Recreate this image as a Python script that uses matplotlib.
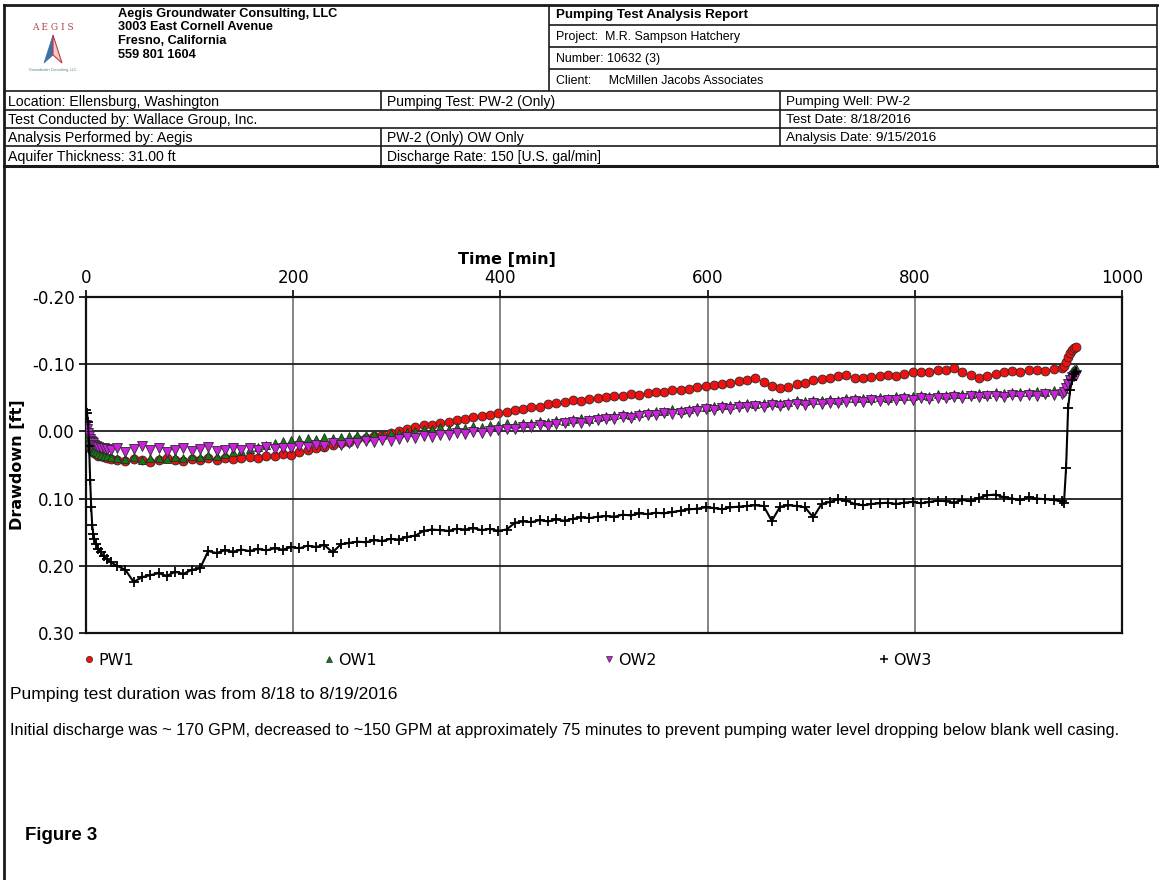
import numpy as np
import matplotlib
matplotlib.use('Agg')
from matplotlib import pyplot as plt
from matplotlib.patches import Polygon
from matplotlib.lines import Line2D

# elapsed time of each reading [min]
time_min = [0, 1, 2, 3, 4, 5, 6, 7, 8, 10, 12, 14, 17, 20, 24,
            30, 38, 46, 54, 62, 70, 78, 86, 94, 102,
            110, 118, 126, 134, 142, 150, 158, 166, 174, 182,
            190, 198, 206, 214, 222, 230, 238, 246, 254, 262,
            270, 278, 286, 294, 302, 310, 318, 326, 334, 342,
            350, 358, 366, 374, 382, 390, 398, 406, 414, 422,
            430, 438, 446, 454, 462, 470, 478, 486, 494, 502,
            510, 518, 526, 534, 542, 550, 558, 566, 574, 582,
            590, 598, 606, 614, 622, 630, 638, 646, 654, 662,
            670, 678, 686, 694, 702, 710, 718, 726, 734, 742,
            750, 758, 766, 774, 782, 790, 798, 806, 814, 822,
            830, 838, 846, 854, 862, 870, 878, 886, 894, 902,
            910, 918, 926, 934, 942,
            944, 946, 948, 950, 952, 954, 956]

# drawdown readings in thousandths of a foot
pw1_mft = [-3, 6, 13, 19, 23, 26, 29, 31, 32, 34, 36, 37, 38, 40, 41,
           42, 44, 41, 43, 45, 42, 40, 43, 44, 41,
           43, 40, 42, 39, 41, 40, 38, 39, 37, 36,
           34, 35, 30, 28, 25, 23, 20, 18, 16, 12,
           10, 7, 5, 2, 0, -4, -6, -9, -10, -13,
           -14, -17, -18, -21, -23, -24, -28, -29, -32, -33,
           -36, -37, -41, -42, -44, -46, -45, -48, -49, -51,
           -53, -52, -55, -54, -57, -59, -58, -61, -62, -63,
           -66, -67, -69, -71, -72, -75, -76, -79, -73, -68,
           -65, -66, -70, -72, -76, -78, -80, -82, -84, -80,
           -79, -81, -82, -84, -83, -85, -88, -89, -88, -91,
           -92, -94, -89, -84, -80, -82, -86, -88, -90, -89,
           -91, -92, -90, -93, -95,
           -97, -103, -111, -117, -121, -124, -125]

ow1_mft = [-6, 0, 7, 13, 18, 22, 25, 27, 29, 31, 33, 35, 36, 37, 38,
           39, 41, 38, 42, 40, 39, 41, 38, 40, 37,
           38, 35, 36, 33, 31, 29, 26, 23, 20, 17,
           15, 13, 12, 10, 11, 9, 10, 8, 7, 6,
           6, 4, 5, 3, 2, 1, -1, -3, -4, -6,
           -4, -6, -5, -8, -7, -10, -9, -12, -11, -13,
           -13, -15, -14, -17, -16, -19, -20, -19, -22, -23,
           -24, -26, -25, -28, -29, -30, -31, -33, -32, -34,
           -36, -37, -38, -39, -40, -41, -42, -41, -43, -44,
           -43, -44, -46, -45, -47, -46, -48, -47, -49, -50,
           -49, -50, -51, -50, -52, -53, -52, -54, -53, -55,
           -54, -55, -56, -55, -57, -56, -58, -57, -58, -59,
           -58, -60, -59, -61, -60,
           -63, -70, -78, -85, -90, -93, -95]

ow2_mft = [-9, -4, 2, 7, 11, 14, 16, 18, 20, 21, 23, 24, 25, 26, 27,
           24, 30, 26, 22, 28, 25, 31, 27, 24, 29,
           26, 23, 29, 27, 24, 28, 25, 27, 23, 26,
           24, 25, 21, 23, 20, 22, 18, 20, 17, 18,
           15, 16, 13, 14, 11, 8, 10, 7, 8, 5,
           6, 3, 4, 1, 2, -1, -2, -4, -3, -6,
           -7, -9, -8, -11, -12, -14, -13, -15, -17, -18,
           -19, -21, -20, -23, -24, -25, -27, -26, -28, -29,
           -31, -33, -32, -35, -34, -36, -37, -38, -37, -39,
           -38, -40, -41, -39, -42, -41, -43, -42, -44, -45,
           -44, -46, -45, -47, -46, -48, -47, -49, -48, -50,
           -49, -51, -50, -52, -51, -53, -52, -51, -54, -53,
           -54, -53, -55, -54, -56,
           -58, -64, -71, -77, -81, -83, -84]

ow3_mft = [-32, -27, -14, 22, 72, 112, 140, 152, 160, 168, 175, 180, 186, 190, 195,
           200, 206, 224, 217, 214, 211, 215, 209, 212, 206,
           204, 178, 181, 177, 179, 176, 178, 175, 177, 174,
           176, 172, 174, 170, 172, 169, 180, 168, 166, 164,
           165, 162, 163, 160, 161, 157, 155, 148, 146, 147,
           148, 145, 146, 144, 147, 145, 148, 146, 136, 134,
           135, 132, 134, 131, 133, 130, 128, 129, 127, 126,
           127, 124, 125, 122, 123, 121, 122, 120, 118, 116,
           115, 113, 114, 116, 113, 112, 111, 110, 111, 133,
           112, 110, 111, 113, 128, 108, 105, 101, 103, 108,
           110, 108, 107, 106, 108, 106, 105, 107, 105, 103,
           104, 106, 102, 104, 99, 95, 94, 98, 100, 102,
           98, 100, 101, 102, 104,
           106, 55, -35, -62, -77, -86, -89]

series_names = ['PW1', 'OW1', 'OW2', 'OW3']
x_ticks = [0, 200, 400, 600, 800, 1000]
y_ticks = [-0.20, -0.10, 0.00, 0.10, 0.20, 0.30]

header_left = ['Aegis Groundwater Consulting, LLC', '3003 East Cornell Avenue',
               'Fresno, California', '559 801 1604']
header_right = ['Project:  M.R. Sampson Hatchery', 'Number: 10632 (3)',
                'Client:     McMillen Jacobs Associates']
info_rows = [
    ('Location: Ellensburg, Washington', 'Pumping Test: PW-2 (Only)', 'Pumping Well: PW-2'),
    ('Test Conducted by: Wallace Group, Inc.', '', 'Test Date: 8/18/2016'),
    ('Analysis Performed by: Aegis', 'PW-2 (Only) OW Only', 'Analysis Date: 9/15/2016'),
    ('Aquifer Thickness: 31.00 ft', 'Discharge Rate: 150 [U.S. gal/min]', ''),
]
notes = ['Pumping test duration was from 8/18 to 8/19/2016',
         'Initial discharge was ~ 170 GPM, decreased to ~150 GPM at approximately '
         '75 minutes to prevent pumping water level dropping below blank well casing.']

W, H = 1161, 880
HDR_FONT = 'Liberation Sans'


def draw_header(bg):
    """ Report frame, company block and the test info table, in pixel coords """
    lk = dict(color='#1a1a1a', lw=1.2, solid_capstyle='butt')
    bg.plot([4, 4], [5, 880], color='#1a1a1a', lw=2.0)
    bg.plot([4, 1157], [5, 5], color='#1a1a1a', lw=2.0)
    bg.plot([1157, 1157], [5, 166], **lk)
    bg.plot([549, 549], [5, 91], **lk)
    for yy in [25, 47, 69]:
        bg.plot([549, 1157], [yy, yy], **lk)
    for yy in [91, 110, 128, 146]:
        bg.plot([4, 1157], [yy, yy], **lk)
    bg.plot([4, 1157], [166, 166], color='#1a1a1a', lw=2.2)
    # column dividers of the info rows
    row_tops = [91, 110, 128, 146]
    for i, (a, b, c) in enumerate(info_rows):
        y0 = row_tops[i]
        y1 = row_tops[i + 1] if i < 3 else 166
        if b:
            bg.plot([381, 381], [y0, y1], **lk)
        if c:
            bg.plot([780, 780], [y0, y1], **lk)
        yc = (y0 + y1) / 2 + 1.2
        bg.text(8, yc, a, fontsize=10.2, va='center', family=HDR_FONT)
        bg.text(387, yc, b, fontsize=10.0, va='center', family=HDR_FONT)
        bg.text(786, yc, c, fontsize=9.7, va='center', family=HDR_FONT)

    for i, line in enumerate(header_left):
        bg.text(118, 14 + 13.5 * i, line, fontsize=9.2, fontweight='bold',
                va='center', family=HDR_FONT)
    bg.text(556, 15, 'Pumping Test Analysis Report', fontsize=9.6,
            fontweight='bold', va='center', family=HDR_FONT)
    for i, line in enumerate(header_right):
        bg.text(556, 37 + 22 * i, line, fontsize=8.9, va='center', family=HDR_FONT)

    # logo
    bg.text(53, 28, 'A E G I S', fontsize=6.5, color='#b5434a', ha='center',
            va='center', family='DejaVu Serif')
    bg.add_patch(Polygon([[53, 35], [44, 63], [53, 55]], closed=True,
                         facecolor='#3f6fa6', edgecolor='#3f6fa6', lw=0.5))
    bg.add_patch(Polygon([[53, 35], [62, 63], [53, 55]], closed=True,
                         facecolor='#f3c9c9', edgecolor='#c0393f', lw=0.8))
    bg.text(53, 70, 'Groundwater Consulting, LLC', fontsize=2.6, color='#4a7f8a',
            ha='center', va='center', family=HDR_FONT)

    # notes under the chart
    bg.text(10, 695, notes[0], fontsize=12.6, va='center', family=HDR_FONT)
    bg.text(10, 730, notes[1], fontsize=11.8, va='center', family=HDR_FONT)
    bg.text(25, 836, 'Figure 3', fontsize=13.4, fontweight='bold', va='center',
            family=HDR_FONT)


def plot_drawdown(fig, ax):
    """ Drawdown vs time for the pumping well and the observation wells """
    t = np.array(time_min)
    styles = [
        dict(marker='o', color='#f01010', ms=6.4),
        dict(marker='^', color='#137a13', ms=6.4),
        dict(marker='v', color='#cc22dd', ms=6.8),
    ]
    for vals, name, st in zip([pw1_mft, ow1_mft, ow2_mft], series_names, styles):
        ax.plot(t, np.array(vals) / 1000.0, linestyle='none', marker=st['marker'],
                markersize=st['ms'], markerfacecolor=st['color'],
                markeredgecolor='#2a2a2a', markeredgewidth=0.6, zorder=3)
    ax.plot(t, np.array(ow3_mft) / 1000.0, color='black', lw=1.5, marker='+',
            markersize=7, markeredgewidth=1.3, zorder=4)

    ax.set_xlim(0, 1000)
    ax.set_ylim(0.30, -0.20)
    ax.set_xticks(x_ticks)
    ax.set_yticks(y_ticks)
    ax.set_yticklabels(['%.2f' % v for v in y_ticks])
    ax.xaxis.tick_top()
    ax.xaxis.set_label_position('top')
    ax.tick_params(direction='out', length=5, width=1.2, labelsize=12, pad=3)
    ax.tick_params(axis='x', pad=2)
    ax.set_axisbelow(True)
    ax.xaxis.grid(True, color='#707070', lw=1.2)
    ax.yaxis.grid(True, color='#1e1e1e', lw=1.3)
    for sp in ax.spines.values():
        sp.set_linewidth(1.6)
        sp.set_color('#111111')

    ax.set_xlabel('Time [min]', fontsize=11.5, fontweight='bold')
    ax.xaxis.set_label_coords((507 - 86) / 1036, (633 - 264) / 336)
    ax.set_ylabel('Drawdown [ft]', fontsize=11.5, fontweight='bold')
    ax.yaxis.set_label_coords((25 - 86) / 1036, 0.5)

    # one legend per entry so each sits where the report puts it
    legend_x = [89, 329, 609, 884]
    handles = [
        Line2D([], [], ls='none', marker='o', ms=4.5, mfc='#f01010', mec='#2a2a2a', mew=0.5),
        Line2D([], [], ls='none', marker='^', ms=4.5, mfc='#137a13', mec='#2a2a2a', mew=0.5),
        Line2D([], [], ls='none', marker='v', ms=4.8, mfc='#cc22dd', mec='#2a2a2a', mew=0.5),
        Line2D([], [], ls='none', marker='+', ms=6, color='black', mew=1.1),
    ]
    for hx, hd, name in zip(legend_x, handles, series_names):
        fig.legend([hd], [name], loc='center left',
                   bbox_to_anchor=((hx - 4) / W, 1 - 660 / H), frameon=False,
                   handlelength=0.5, handletextpad=0.35, fontsize=11.5,
                   borderaxespad=0, borderpad=0)


if __name__ == '__main__':
    plt.rcParams['axes.unicode_minus'] = False
    plt.rcParams['font.family'] = 'DejaVu Sans'
    fig = plt.figure(figsize=(W / 100, H / 100), dpi=100)
    bg = fig.add_axes([0, 0, 1, 1])
    bg.set_xlim(0, W)
    bg.set_ylim(H, 0)
    bg.axis('off')
    draw_header(bg)
    ax = fig.add_axes([86 / W, 1 - 633 / H, 1036 / W, 336 / H])
    plot_drawdown(fig, ax)
    plt.savefig('out.png', dpi=100)
